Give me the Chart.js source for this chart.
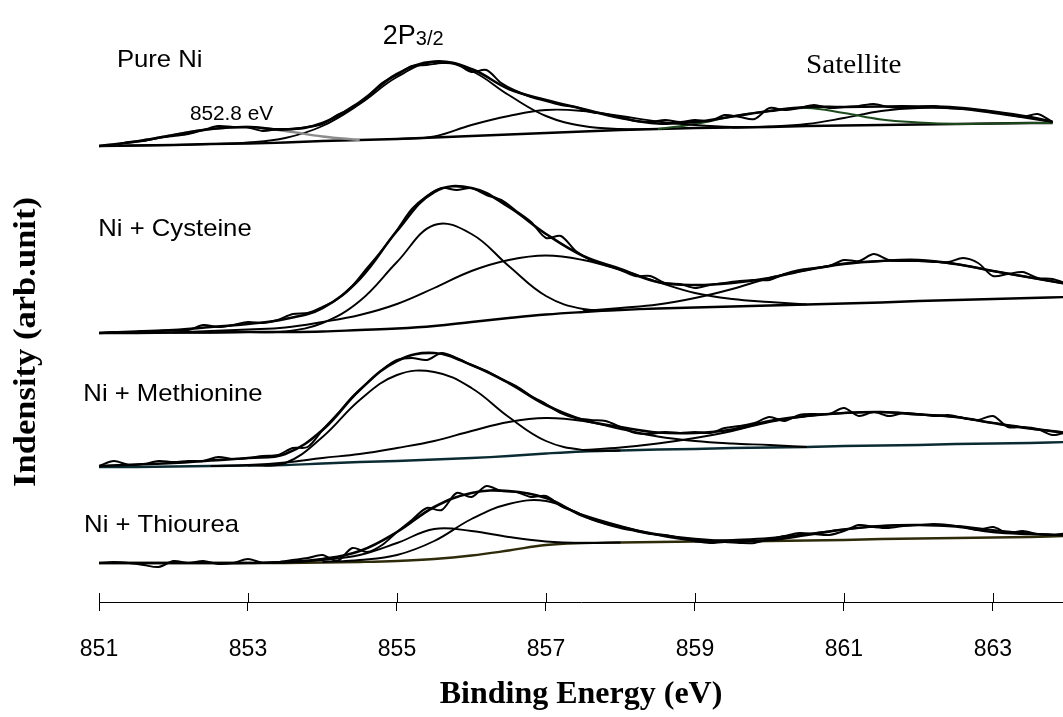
<!DOCTYPE html>
<html>
<head>
<meta charset="utf-8">
<script src="https://cdn.jsdelivr.net/npm/chart.js@4.4.1/dist/chart.umd.min.js"></script>
<style>
  html, body { margin: 0; padding: 0; background: #fff; }
  #wrap { width: 1063px; height: 717px; }
</style>
</head>
<body>
<div id="wrap"><canvas id="xps" width="1063" height="717"></canvas></div>
<script>
// binding energy grids (eV)
const eFit = [851, 851.5, 852, 852.5, 853, 853.5, 854, 854.5, 855, 855.5, 856, 856.5, 857, 857.5,
  858, 858.5, 859, 859.5, 860, 860.5, 861, 861.5, 862, 862.5, 863, 863.5, 864];
const eFitNi = [851, 851.5, 852, 852.5, 853, 853.5, 854, 854.5, 855, 855.5, 856, 856.5, 857, 857.5,
  858, 858.5, 859, 859.5, 860, 860.5, 861, 861.5, 862, 862.5, 863, 863.5, 863.8];
const eRaw = [851.0, 851.2, 851.4, 851.6, 851.8, 852.0, 852.2, 852.4, 852.6, 852.8,
  853.0, 853.2, 853.4, 853.6, 853.8, 854.0, 854.2, 854.4, 854.6, 854.8,
  855.0, 855.2, 855.4, 855.6, 855.8, 856.0, 856.2, 856.4, 856.6, 856.8,
  857.0, 857.2, 857.4, 857.6, 857.8, 858.0, 858.2, 858.4, 858.6, 858.8,
  859.0, 859.2, 859.4, 859.6, 859.8, 860.0, 860.2, 860.4, 860.6, 860.8,
  861.0, 861.2, 861.4, 861.6, 861.8, 862.0, 862.2, 862.4, 862.6, 862.8,
  863.0, 863.2, 863.4, 863.6, 863.8, 864.0];
const tickValues = [851, 853, 855, 857, 859, 861, 863];

// intensities (arb. units, spectra stacked with offsets)
// Pure Ni
const niRaw = [456, 457, 460, 461, 464, 466, 468, 472, 476, 475,
  474.5, 471, 473, 473, 475, 478, 487, 494, 505, 519,
  527, 536, 537, 539, 538, 530, 532, 519, 511, 505,
  501, 497, 495, 490, 488, 485, 481, 480, 482, 480,
  482, 481, 487, 485, 483, 494, 492, 494, 497, 494,
  495, 496, 498, 495, 494, 495, 496, 494, 493, 492,
  490, 488, 485, 488, 480, null];
const niFit = [456, 460.5, 467, 473, 475, 472.5, 479, 500, 528, 540.5, 533, 513, 502, 493, 484,
  478.5, 480, 485.5, 491, 495, 495, 495.5, 495.5, 494.5, 490.5, 485, 480];
const niBase = [456, 456.5, 457, 458, 458.5, 459.5, 461, 462, 463, 464.5, 466, 467.5, 469, 470.5,
  472, 473, 474, 474.5, 475, 476, 476.5, 477, 477.5, 478, 478.5, 479, 479];
const niMetal = [456, 460.5, 467, 473, 475, 471, 465.5, 462, null, null, null, null, null, null,
  null, null, null, null, null, null, null, null, null, null, null, null, null];
const niPeakA = [456, 456.5, 457, 458, 459.5, 464, 476, 498, 525, 540, 531, 507, 486, 476, 473,
  473, null, null, null, null, null, null, null, null, null, null, null];
const niPeakB = [null, null, null, null, null, null, null, null, 463, 465.5, 477, 486, 492, 491,
  486, 480.5, 477, 475, 475, null, null, null, null, null, null, null, null];
const niSatA = [null, null, null, null, null, null, null, null, null, null, null, null, null, null,
  null, 473, 478, 485.5, 491, 494, 489, 482.5, 479.5, 478, 478.5, 479, 479];
const niSatB = [null, null, null, null, null, null, null, null, null, null, null, null, null, null,
  null, null, null, 474.5, 475.5, 478, 484, 491, 494, 493.5, 489, 483.5, 480];

// Ni + Cysteine
const cysRaw = [269, 270, 269, 271, 271, 272, 272, 277, 275, 277,
  280, 279, 282, 288, 289, 295, 303, 316, 334, 352,
  372, 393, 406, 414, 412, 414, 407, 402, 391, 380,
  364, 366, 351, 342, 337, 332, 326, 326, 319, 318,
  314, 317, 319, 321, 322, 322, 328, 332, 334, 336,
  342, 341, 348, 342, 341, 341, 340, 340, 344, 339,
  326, 328, 330, 324, 323, 318];
const cysFit = [269, 270.5, 272, 275, 278, 283, 294, 323, 371, 410, 414, 395, 368, 346, 333,
  320, 317, 319, 324, 332, 338, 341, 342, 338, 331, 324.5, 318];
const cysBase = [269, 269, 269.5, 269.5, 270, 270, 270.5, 272, 273.5, 276, 280, 284, 287.5, 290,
  292, 293.5, 294.5, 295.5, 296.5, 297.5, 298.5, 299.5, 301, 302, 303, 304, 305];
const cysPeakA = [269, 269, 269.5, 269.5, 270, 270.5, 279, 301, 340, 377, 368, 336, 306, 293, 292,
  null, null, null, null, null, null, null, null, null, null, null, null];
const cysPeakB = [null, null, 269.5, 271, 272.5, 274.5, 280, 287, 298, 314, 331, 342, 346.5, 342,
  332, 320, 309, 303, 300, 297.5, null, null, null, null, null, null, null];
const cysSat = [null, null, null, null, null, null, null, null, null, null, null, null, null,
  291, 294, 297.5, 304, 313, 324, 332, 338.5, 341, 341.5, 338, 331, 324.5, 318];

// Ni + Methionine
const metRaw = [136, 141, 137, 138, 141, 140, 141, 141, 145, 143,
  144, 146, 147, 154, 155, 172, 188, 205, 219, 232,
  242, 244, 242, 249, 244, 237, 231, 223, 216, 206,
  198, 189, 184, 182, 181, 175, 169, 168, 170, 169,
  170, 169, 174, 176, 179, 185, 181, 187, 188, 188,
  194, 186, 190, 186, 189, 188, 186, 187, 184, 182,
  186, 175, 175, 173, 167, 170];
const metFit = [136, 137.5, 139, 141.5, 144, 148, 172, 212, 241, 249, 237, 219, 197, 182, 175,
  169.5, 169, 172.5, 181, 186, 189, 190, 187.5, 185, 179, 173.5, 169];
const metBase = [135, 135, 135.5, 136, 136.5, 137, 138.5, 140, 141, 142.5, 144, 146, 148.5, 150.5,
  151.5, 152.5, 153, 154, 154.5, 155, 156, 156.5, 157, 158, 158.5, 159, 160];
const metPeakA = [null, null, null, null, 136.5, 139, 165, 202, 227, 230, 214, 185, 161, 152,
  151.5, null, null, null, null, null, null, null, null, null, null, null, null];
const metPeakB = [null, null, null, 136, 137, 139.5, 144, 148, 154, 161, 171, 180, 184, 181,
  173, 165.5, 161, 158.5, 157, 155, null, null, null, null, null, null, null];
const metSat = [null, null, null, null, null, null, null, null, null, null, null, null, null,
  152, 154.5, 158.5, 164, 171, 180, 186, 189, 190, 187.5, 185, 179, 173.5, 169];

// Ni + Thiourea
const thuRaw = [39, 40, 39, 37, 35, 41, 39, 41, 38, 39,
  43, 39, 40, 42, 44, 47, 41, 54, 50, 57,
  70, 82, 94, 92, 109, 105, 116, 111, 110, 105,
  106, 96, 90, 83, 78, 74, 71, 68, 67, 64,
  61, 59, 60, 59, 59, 63, 66, 69, 68, 67,
  71, 77, 75, 74, 76, 77, 78, 77, 75, 72,
  75, 69, 71, 68, 67, 69];
const thuFit = [39, 39, 39, 39, 39, 40, 43, 51, 70, 95, 109, 111, 104, 86, 75, 67.5, 63, 61, 62,
  67, 72.5, 76, 77, 75.5, 70, 68, 67];
const thuBase = [39, 39, 39, 39, 39, 39, 39.5, 40, 41, 43, 46.5, 51.5, 57, 59, 59.5, 60, 60.5,
  60.5, 61, 61.5, 62, 63, 63.5, 64, 64.5, 65, 66];
const thuPeakA = [null, null, null, null, 39, 39.5, 42, 47, 59, 73, 71, 65, 60.5, 59, 59.5,
  null, null, null, null, null, null, null, null, null, null, null, null];
const thuPeakB = [null, null, null, null, null, null, 40, 42, 47, 61, 83, 98, 101, 87, 76, 67,
  61.5, 60.5, null, null, null, null, null, null, null, null, null];
const thuSat = [null, null, null, null, null, null, null, null, null, null, null, null, null,
  null, null, null, 60.5, 62, 64, 68, 72.5, 76, 77, 76, 72, 68.5, 66.5];

// text placed in data coordinates (sx = horizontal stretch of the lettering)
const sans = '"Liberation Sans", Arial, sans-serif';
const serif = '"Liberation Serif", "Times New Roman", serif';
const notes = [
  { text: 'Pure Ni', e: 851.24, v: 535, font: '24px ' + sans, sx: 1.07 },
  { text: 'Ni + Cysteine', e: 850.99, v: 366, font: '24px ' + sans, sx: 1.07 },
  { text: 'Ni + Methionine', e: 850.79, v: 201, font: '24px ' + sans, sx: 1.07 },
  { text: 'Ni + Thiourea', e: 850.8, v: 70, font: '24px ' + sans, sx: 1.07 },
  { text: '852.8 eV', e: 852.22, v: 482, font: '20px ' + sans, sx: 1.04 },
  { text: 'Satellite', e: 860.49, v: 529, font: '27px ' + serif, sx: 1.08 }
];
const yTitle = { text: 'Indensity (arb.unit)', e: 850.03, v: 260, font: 'bold 32px ' + serif, sx: 1.08 };

function pts(es, vs) {
  return es.map((e, i) => ({ x: e, y: vs[i] }));
}

function fitLine(es, vs, color, width) {
  return {
    data: pts(es, vs), borderColor: color, borderWidth: width, pointRadius: 0,
    fill: false, tension: 0.4
  };
}

function rawLine(es, vs) {
  return {
    data: pts(es, vs), borderColor: '#000', borderWidth: 2, pointRadius: 0,
    fill: false, tension: 0.3
  };
}

function stretchedText(ctx, t, px, py, rot) {
  ctx.save();
  ctx.translate(px, py);
  if (rot) ctx.rotate(rot);
  ctx.scale(t.sx || 1, 1);
  ctx.font = t.font;
  ctx.fillText(t.text, 0, 0);
  ctx.restore();
}

const overlay = {
  id: 'overlay',
  afterDraw(chart) {
    const { ctx, scales: { x, y } } = chart;
    ctx.save();
    // tick marks crossing the axis line
    ctx.strokeStyle = '#000';
    ctx.lineWidth = 1;
    x.ticks.forEach(t => {
      const px = Math.round(x.getPixelForValue(t.value)) + 0.5;
      ctx.beginPath();
      ctx.moveTo(px, y.bottom - 9);
      ctx.lineTo(px, y.bottom);
      ctx.stroke();
    });
    ctx.fillStyle = '#000';
    ctx.textBaseline = 'alphabetic';
    ctx.textAlign = 'left';
    notes.forEach(n => stretchedText(ctx, n, x.getPixelForValue(n.e), y.getPixelForValue(n.v), 0));
    // rotated axis title
    ctx.textAlign = 'center';
    ctx.textBaseline = 'middle';
    stretchedText(ctx, yTitle, x.getPixelForValue(yTitle.e), y.getPixelForValue(yTitle.v), -Math.PI / 2);
    // 2P3/2 with small subscript
    ctx.textAlign = 'left';
    ctx.textBaseline = 'alphabetic';
    const px = x.getPixelForValue(854.81), py = y.getPixelForValue(558);
    ctx.font = '27px ' + sans;
    ctx.fillText('2P', px, py);
    const w = ctx.measureText('2P').width;
    ctx.font = '20px ' + sans;
    ctx.fillText('3/2', px + w, py + 1);
    ctx.restore();
  }
};

new Chart(document.getElementById('xps'), {
  type: 'line',
  data: {
    datasets: [
      rawLine(eRaw, niRaw),
      fitLine(eFitNi, niFit, '#000', 2.6),
      fitLine(eFitNi, niMetal, '#8c8c8c', 2.4),
      fitLine(eFitNi, niPeakA, '#000', 1.9),
      fitLine(eFitNi, niPeakB, '#000', 1.9),
      fitLine(eFitNi, niSatA, '#1d4a1d', 2),
      fitLine(eFitNi, niSatB, '#000', 1.9),
      fitLine(eFitNi, niBase, '#000', 2.4),

      rawLine(eRaw, cysRaw),
      fitLine(eFit, cysFit, '#000', 2.6),
      fitLine(eFit, cysPeakA, '#000', 1.9),
      fitLine(eFit, cysPeakB, '#000', 1.9),
      fitLine(eFit, cysSat, '#000', 1.9),
      fitLine(eFit, cysBase, '#000', 2.4),

      rawLine(eRaw, metRaw),
      fitLine(eFit, metFit, '#000', 2.6),
      fitLine(eFit, metPeakA, '#000', 1.9),
      fitLine(eFit, metPeakB, '#000', 1.9),
      fitLine(eFit, metSat, '#000', 1.9),
      fitLine(eFit, metBase, '#0b2b33', 2.4),

      rawLine(eRaw, thuRaw),
      fitLine(eFit, thuFit, '#000', 2.6),
      fitLine(eFit, thuPeakA, '#000', 1.9),
      fitLine(eFit, thuPeakB, '#000', 1.9),
      fitLine(eFit, thuSat, '#000', 1.9),
      fitLine(eFit, thuBase, '#2e2b0a', 2.4)
    ]
  },
  options: {
    responsive: false,
    animation: false,
    devicePixelRatio: 1,
    layout: { padding: 0 },
    plugins: {
      legend: { display: false },
      tooltip: { enabled: false }
    },
    scales: {
      x: {
        type: 'linear',
        min: 851,
        max: 863.94,
        afterBuildTicks: axis => { axis.ticks = tickValues.map(v => ({ value: v })); },
        afterFit: axis => { axis.height = 115; },
        grid: { drawOnChartArea: false, drawTicks: true, tickLength: 9, color: '#000' },
        border: { display: true, color: '#000', width: 1 },
        ticks: {
          color: '#000', padding: 25, maxRotation: 0, autoSkip: false,
          font: { family: sans, size: 23 },
          callback: v => String(v)
        },
        title: {
          display: true, text: 'Binding Energy (eV)', color: '#000',
          font: { family: serif, size: 32, weight: 'bold' },
          padding: { top: 0, bottom: 3 }
        }
      },
      y: {
        min: 0,
        max: 602,
        afterFit: axis => { axis.width = 99; },
        grid: { display: false },
        border: { display: false },
        ticks: { display: false },
        title: { display: false }
      }
    }
  },
  plugins: [overlay]
});
</script>
</body>
</html>
